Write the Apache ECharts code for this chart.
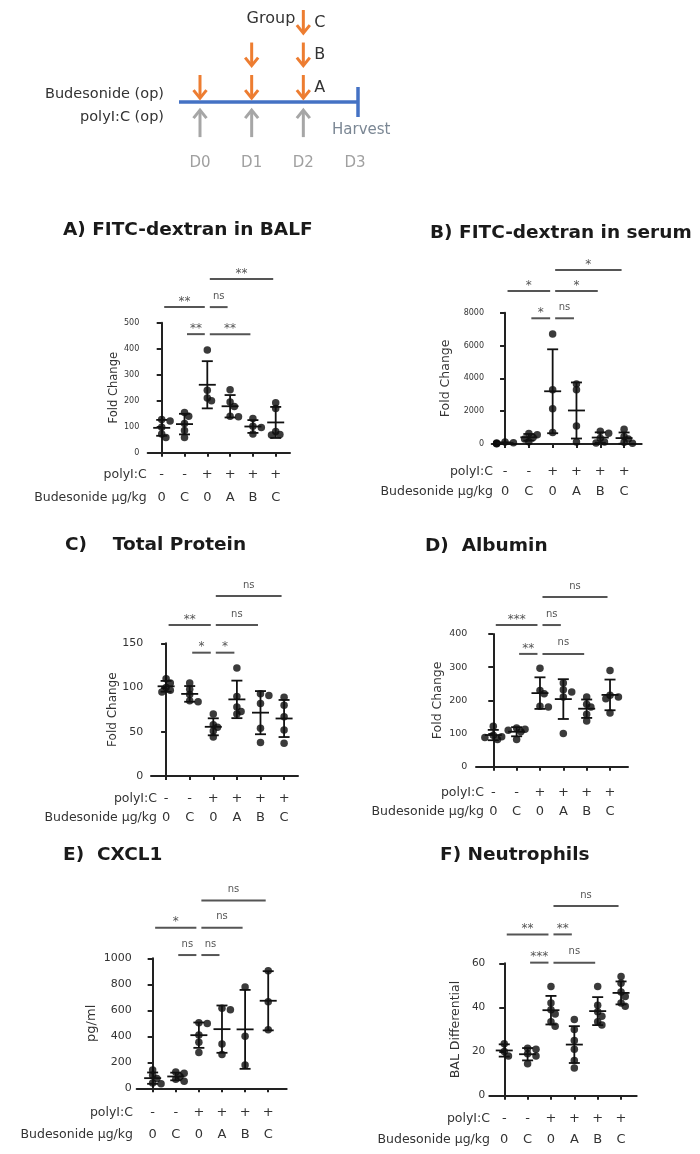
<!DOCTYPE html>
<html><head><meta charset="utf-8">
<script src="https://cdn.jsdelivr.net/npm/echarts@6/dist/echarts.min.js"></script>
<style>html,body{margin:0;padding:0;background:#fff}#c{width:700px;height:1154px}</style>
</head><body><div id="c"></div>
<script>
// ---------------- DATA ----------------
// x-axis categories (two label rows)
const groupLabels = ['0', 'C', '0', 'A', 'B', 'C'];
const polyICRow = ['-', '-', '+', '+', '+', '+'];
const rowHeaders = ['polyI:C', 'Budesonide µg/kg'];

// schematic
const days = ['D0', 'D1', 'D2', 'D3'];
const doseGroups = ['A', 'B', 'C'];
const doseDays = [[0, 1, 2], [1, 2], [2]];
const polyICDays = [0, 1, 2];
const harvestDay = 3;
const routeLabels = ['Budesonide (op)', 'polyI:C (op)'];

// individual animal values per group (order = groupLabels)
const balfFITC = [[128, 122, 98, 72, 58], [155, 140, 112, 85, 58], [395, 240, 210, 200], [242, 195, 178, 140, 138], [132, 102, 97, 72], [192, 170, 82, 70, 68]];
const serumFITC = [[120, 80, 60, 30, 10], [640, 560, 400, 300, 130], [6700, 3300, 2150, 700], [3650, 3300, 1100, 120], [780, 650, 350, 120, 60], [900, 450, 300, 100, 50]];
const totalProtein = [[110, 105, 100, 97, 95], [105, 98, 92, 85, 84], [70, 58, 55, 51, 44], [122, 90, 78, 73, 70], [93, 91, 82, 54, 38], [89, 80, 67, 52, 37]];
const albumin = [[122, 95, 90, 88, 82], [117, 113, 110, 105, 82], [297, 230, 220, 182, 180], [252, 232, 225, 210, 100], [210, 188, 180, 158, 138], [290, 215, 210, 205, 162]];
const cxcl1 = [[140, 100, 75, 40, 35], [125, 115, 90, 70, 55], [505, 498, 410, 355, 275], [615, 605, 340, 260], [780, 400, 180], [905, 665, 450]];
const neutrophils = [[23.5, 20, 18], [21.5, 21, 19, 18, 14.5], [49.5, 42, 39, 37, 33.5, 31.5], [34.5, 30, 25, 21, 16, 12.5], [49.5, 41, 38, 36, 33.5, 32], [54, 51, 47, 45, 42, 40.5]];

// significance comparisons: [fromGroup, toGroup, bracketTier, label]
const balfSig = [[0, 2, 1, '**'], [1, 2, 0, '**'], [2, 3, 1, 'ns'], [2, 4, 0, '**'], [2, 5, 2, '**']];
const serumSig = [[0, 2, 1, '*'], [1, 2, 0, '*'], [2, 3, 0, 'ns'], [2, 4, 1, '*'], [2, 5, 2, '*']];
const proteinSig = [[0, 2, 1, '**'], [1, 2, 0, '*'], [2, 3, 0, '*'], [2, 4, 1, 'ns'], [2, 5, 2, 'ns']];
const albuminSig = [[0, 2, 1, '***'], [1, 2, 0, '**'], [2, 3, 1, 'ns'], [2, 4, 0, 'ns'], [2, 5, 2, 'ns']];
const cxcl1Sig = [[0, 2, 1, '*'], [1, 2, 0, 'ns'], [2, 3, 0, 'ns'], [2, 4, 1, 'ns'], [2, 5, 2, 'ns']];
const neutroSig = [[0, 2, 1, '**'], [1, 2, 0, '***'], [2, 3, 1, '**'], [2, 4, 0, 'ns'], [2, 5, 2, 'ns']];

const panelTitles = ['A) FITC-dextran in BALF', 'B) FITC-dextran in serum', 'C)    Total Protein', 'D)  Albumin', 'E)  CXCL1', 'F) Neutrophils'];
const yAxisNames = ['Fold Change', 'Fold Change', 'Fold Change', 'Fold Change', 'pg/ml', 'BAL Differential'];
const yAxisMax = [500, 8000, 150, 400, 1000, 60];
const yAxisStep = [100, 2000, 50, 100, 200, 20];
// bracket tier heights in data units
const bracketTiers = [[456, 560, 668], [7660, 9323, 10603], [139.4, 170.7, 203.5], [340, 427, 511.6], [1025, 1235, 1445], [60.3, 73.1, 86]];

const panelValues = [balfFITC, serumFITC, totalProtein, albumin, cxcl1, neutrophils];
const panelSig = [balfSig, serumSig, proteinSig, albuminSig, cxcl1Sig, neutroSig];

// ---------------- LAYOUT ----------------
const FONT = '"DejaVu Sans", sans-serif';
const layout = [
  {tx: 63, ty: 230, l: 147.7, t: 322.7, r: 290, b: 452.7, xMin: -0.614, xMax: 5.627, tick: 8, tickGap: 8.4, nameSize: 11.5, nameGap: 16, lh: 23, lm: 10.8, rowRight: 146.7},
  {tx: 430, ty: 233, l: 491.7, t: 312.7, r: 641.7, b: 444, xMin: -0.56, xMax: 5.74, tick: 8, tickGap: 7.7, nameSize: 12.5, nameGap: 39, lh: 20, lm: 17.7, rowRight: 493},
  {tx: 65, ty: 545, l: 151, t: 643.3, r: 298, b: 776, xMin: -0.64, xMax: 5.59, tick: 11, tickGap: 7.7, nameSize: 12, nameGap: 32, lh: 19, lm: 13.5, rowRight: 157},
  {tx: 425, ty: 546, l: 476, t: 634, r: 628, b: 766.7, xMin: -0.74, xMax: 5.77, tick: 9.5, tickGap: 8.7, nameSize: 12.5, nameGap: 31.5, lh: 19, lm: 16.8, rowRight: 484},
  {tx: 63, ty: 855, l: 136.7, t: 958.3, r: 286.7, b: 1088.3, xMin: -0.69, xMax: 5.8, tick: 11, tickGap: 5, nameSize: 13, nameGap: 38.7, lh: 22, lm: 13.7, rowRight: 133},
  {tx: 440, ty: 855, l: 489.3, t: 963.3, r: 636.7, b: 1095.7, xMin: -0.64, xMax: 5.67, tick: 10.5, tickGap: 4, nameSize: 12.5, nameGap: 26.8, lh: 21, lm: 12.8, rowRight: 490}
];

function mean(a) { return a.reduce((s, v) => s + v, 0) / a.length; }
function sd(a) { const m = mean(a); return Math.sqrt(a.reduce((s, v) => s + (v - m) * (v - m), 0) / (a.length - 1)); }

// deterministic horizontal spreading of overlapping dots (pixel based)
function spread(vals, pxY, pxX) {
  const order = vals.map((v, i) => i).sort((a, b) => vals[b] - vals[a]);
  const placed = [], res = new Array(vals.length).fill(0);
  const d = 4.8;
  for (const i of order) {
    const v = vals[i];
    for (const k of [0, 1, -1, 2, -2]) {
      const xp = k * 4.2;
      if (k === -2 || placed.every(p => Math.hypot(p.x - xp, (p.v - v) * pxY) >= d)) {
        placed.push({x: xp, v}); res[i] = xp / pxX; break;
      }
    }
  }
  return res;
}

const grids = [], xAxes = [], yAxes = [], series = [], graphics = [];

// ---- schematic (grid 0) ----
grids.push({left: 200, top: 4.5, width: 155, height: 146.25});
xAxes.push({gridIndex: 0, type: 'value', min: 0, max: 3, interval: 1,
  axisLine: {show: false}, axisTick: {show: false}, splitLine: {show: false},
  axisLabel: {formatter: v => days[v], color: '#a0a0a0', fontSize: 15, fontFamily: FONT, margin: 5}});
yAxes.push({gridIndex: 0, type: 'value', min: -1.5, max: 3, show: false, splitLine: {show: false}});

const ORANGE = '#ED7D31', GRAY = '#a6a6a6', BLUE = '#4472C4';
// timeline
series.push({type: 'custom', xAxisIndex: 0, yAxisIndex: 0, silent: true, clip: false,
  data: [[polyICDays[0], harvestDay]],
  renderItem(params, api) {
    const a = api.coord([api.value(0), 0]), b = api.coord([api.value(1), 0]);
    const st = {stroke: BLUE, lineWidth: 3.5};
    return {type: 'group', children: [
      {type: 'line', shape: {x1: a[0] - 21, y1: a[1], x2: b[0] + 3, y2: b[1]}, style: st},
      {type: 'line', shape: {x1: b[0] + 3, y1: b[1] - 15, x2: b[0] + 3, y2: b[1] + 15}, style: st}
    ]};
  }});
// budesonide arrows
const doseData = [];
doseDays.forEach((ds, r) => ds.forEach(d => doseData.push([d, r])));
series.push({type: 'custom', xAxisIndex: 0, yAxisIndex: 0, silent: true, clip: false, data: doseData,
  renderItem(params, api) {
    const d = api.value(0), r = api.value(1);
    const tail = api.coord([d, r + 0.83]), tip = api.coord([d, r + 0.12]);
    const st = {stroke: ORANGE, lineWidth: 3, fill: null};
    return {type: 'group', children: [
      {type: 'line', shape: {x1: tail[0], y1: tail[1], x2: tip[0], y2: tip[1] - 1}, style: st},
      {type: 'polyline', shape: {points: [[tip[0] - 6.5, tip[1] - 8], [tip[0], tip[1]], [tip[0] + 6.5, tip[1] - 8]]}, style: st}
    ]};
  }});
// group labels
series.push({type: 'custom', xAxisIndex: 0, yAxisIndex: 0, silent: true, clip: false,
  data: doseDays.map((ds, r) => [Math.max(...ds), r]),
  renderItem(params, api) {
    const r = api.value(1);
    const p = api.coord([api.value(0), r + 0.45]);
    const ch = [{type: 'text', style: {text: doseGroups[params.dataIndex], x: p[0] + 11, y: p[1], align: 'left', verticalAlign: 'middle', fontSize: 16, fontFamily: FONT, fill: '#333'}}];
    if (params.dataIndex === doseGroups.length - 1) {
      ch.push({type: 'text', style: {text: 'Group', x: p[0] - 8, y: p[1] - 4, align: 'right', verticalAlign: 'middle', fontSize: 16, fontFamily: FONT, fill: '#333'}});
    }
    return {type: 'group', children: ch};
  }});
// polyI:C arrows
series.push({type: 'custom', xAxisIndex: 0, yAxisIndex: 0, silent: true, clip: false,
  data: polyICDays.map(d => [d]),
  renderItem(params, api) {
    const d = api.value(0);
    const tail = api.coord([d, -1.08]), tip = api.coord([d, -0.25]);
    const st = {stroke: GRAY, lineWidth: 3, fill: null};
    return {type: 'group', children: [
      {type: 'line', shape: {x1: tail[0], y1: tail[1], x2: tip[0], y2: tip[1] + 1}, style: st},
      {type: 'polyline', shape: {points: [[tip[0] - 6.5, tip[1] + 8], [tip[0], tip[1]], [tip[0] + 6.5, tip[1] + 8]]}, style: st}
    ]};
  }});
// harvest + route labels
series.push({type: 'custom', xAxisIndex: 0, yAxisIndex: 0, silent: true, clip: false,
  data: [[harvestDay, -0.86]],
  renderItem(params, api) {
    const p = api.coord([api.value(0), api.value(1)]);
    return {type: 'text', style: {text: 'Harvest', x: p[0] - 23, y: p[1], align: 'left', verticalAlign: 'middle', fontSize: 15, fontFamily: FONT, fill: '#7b8794'}};
  }});
series.push({type: 'custom', xAxisIndex: 0, yAxisIndex: 0, silent: true, clip: false,
  data: [[polyICDays[0], 0.25], [polyICDays[0], -0.46]],
  renderItem(params, api) {
    const p = api.coord([api.value(0), api.value(1)]);
    return {type: 'text', style: {text: routeLabels[params.dataIndex], x: p[0] - 36, y: p[1], align: 'right', verticalAlign: 'middle', fontSize: 14.5, fontFamily: FONT, fill: '#333'}};
  }});

// ---- panels ----
layout.forEach((L, k) => {
  const gi = k + 1;
  const width = L.r - L.l, height = L.b - L.t;
  grids.push({left: L.l, top: L.t, width, height});
  const idx = [0, 1, 2, 3, 4, 5];
  xAxes.push({gridIndex: gi, type: 'value', min: L.xMin, max: L.xMax,
    axisLine: {show: true, lineStyle: {color: '#222', width: 2}},
    axisTick: {show: true, customValues: idx, length: 4, lineStyle: {color: '#222', width: 2}},
    splitLine: {show: false},
    axisLabel: {customValues: idx, formatter: v => polyICRow[v] + '\n' + groupLabels[v],
      margin: L.lm, lineHeight: L.lh, fontSize: 13, fontFamily: FONT, color: '#333'}});
  yAxes.push({gridIndex: gi, type: 'value', min: 0, max: yAxisMax[k], interval: yAxisStep[k],
    name: yAxisNames[k], nameLocation: 'middle', nameGap: L.nameGap,
    nameTextStyle: {fontSize: L.nameSize, fontFamily: FONT, color: '#333'},
    axisLine: {show: true, lineStyle: {color: '#222', width: 2}},
    axisTick: {show: true, length: 5, lineStyle: {color: '#222', width: 2}},
    splitLine: {show: false},
    axisLabel: {formatter: v => String(v), fontSize: L.tick, fontFamily: FONT, color: '#333', margin: L.tickGap}});

  const vals = panelValues[k];
  const pxY = height / yAxisMax[k];
  const pxX = width / (L.xMax - L.xMin);
  const pts = [];
  vals.forEach((g, i) => {
    const dx = spread(g, pxY, pxX);
    g.forEach((v, j) => pts.push([i + dx[j], v]));
  });
  series.push({type: 'scatter', xAxisIndex: gi, yAxisIndex: gi, data: pts, symbol: 'circle', symbolSize: 7.5,
    itemStyle: {color: '#0a0a0a'}, silent: true, z: 3});

  series.push({type: 'custom', xAxisIndex: gi, yAxisIndex: gi, silent: true, z: 4, clip: false,
    data: vals.map((g, i) => [i, mean(g), sd(g)]),
    renderItem(params, api) {
      const x = api.value(0), m = api.value(1), s = api.value(2);
      const pm = api.coord([x, m]), pt = api.coord([x, m + s]), pb = api.coord([x, Math.max(0, m - s)]);
      const st = {stroke: '#111', lineWidth: 1.8};
      return {type: 'group', children: [
        {type: 'line', shape: {x1: pm[0] - 8.5, y1: pm[1], x2: pm[0] + 8.5, y2: pm[1]}, style: st},
        {type: 'line', shape: {x1: pt[0], y1: pt[1], x2: pb[0], y2: pb[1]}, style: st},
        {type: 'line', shape: {x1: pt[0] - 5.5, y1: pt[1], x2: pt[0] + 5.5, y2: pt[1]}, style: st},
        {type: 'line', shape: {x1: pb[0] - 5.5, y1: pb[1], x2: pb[0] + 5.5, y2: pb[1]}, style: st}
      ]};
    }});

  const sig = panelSig[k], tiers = bracketTiers[k];
  series.push({type: 'custom', xAxisIndex: gi, yAxisIndex: gi, silent: true, clip: false,
    data: sig.map(s => [s[0], s[1], tiers[s[2]]]),
    renderItem(params, api) {
      const lab = sig[params.dataIndex][3];
      const a = api.coord([api.value(0), api.value(2)]), c = api.coord([api.value(1), api.value(2)]);
      const star = lab.indexOf('*') >= 0;
      return {type: 'group', children: [
        {type: 'line', shape: {x1: a[0] + 2.5, y1: a[1], x2: c[0] - 2.5, y2: c[1]}, style: {stroke: '#555', lineWidth: 2}},
        {type: 'text', style: {text: lab, x: (a[0] + c[0]) / 2, y: a[1] - (star ? 5.5 : 11), align: 'center', verticalAlign: 'middle',
          fontSize: star ? 12 : 10, fontFamily: FONT, fill: '#555'}}
      ]};
    }});

  // title and row headers
  graphics.push({type: 'text', x: L.tx, y: L.ty, silent: true,
    style: {text: panelTitles[k], align: 'left', verticalAlign: 'middle', fontSize: 18.5, fontWeight: 'bold', fontFamily: FONT, fill: '#1a1a1a'}});
  rowHeaders.forEach((h, j) => {
    graphics.push({type: 'text', x: L.rowRight, y: L.b + L.lm + L.lh * (j + 0.5), silent: true,
      style: {text: h, align: 'right', verticalAlign: 'middle', fontSize: 12.5, fontFamily: FONT, fill: '#333'}});
  });
});

const chart = echarts.init(document.getElementById('c'), null, {renderer: 'canvas'});
chart.setOption({
  animation: false,
  backgroundColor: '#fff',
  textStyle: {fontFamily: FONT},
  grid: grids, xAxis: xAxes, yAxis: yAxes, series, graphic: graphics
});
</script></body></html>
